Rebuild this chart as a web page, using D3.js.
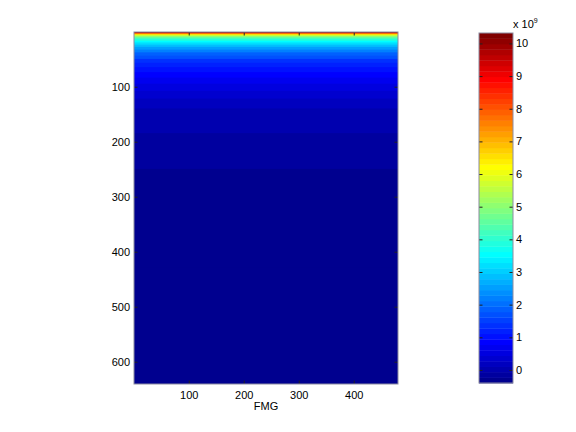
<!DOCTYPE html>
<html>
<head>
<meta charset="utf-8">
<script src="https://cdn.jsdelivr.net/npm/d3@7"></script>
<style>
  body { margin: 0; background: #fff; }
  svg { display: block; }
  text { font-family: Arial, "Liberation Sans", sans-serif; font-size: 11px; fill: #000; }
</style>
</head>
<body>
<div id="chart"></div>
<script>
// Image size (columns x rows) and the row profile
const nCols = 480;
const nRows = 640;
// first row of each band, and its value (x 10^9)
const rowStarts = [1, 2, 3, 4, 5, 6, 7, 8, 10, 12, 14, 17, 20, 24, 28, 33, 38, 44, 50, 57,
                   65, 74, 84, 95, 108, 122, 140, 160, 185, 215, 250, 300, 360, 430, 520, 600];
const rowValues = [10.3, 9.2, 8.0, 7.1, 6.5, 6.0, 5.5, 5.1, 4.6, 4.2, 3.85, 3.5, 3.15, 2.8, 2.5, 2.2, 1.9, 1.65, 1.4, 1.2,
                   1.0, 0.82, 0.66, 0.5, 0.36, 0.22, 0.08, -0.04, -0.14, -0.22, -0.27, -0.31, -0.34, -0.36, -0.38, -0.4];

const xTicks = [100, 200, 300, 400];
const yTicks = [100, 200, 300, 400, 500, 600];
const cTicks = [0, 1, 2, 3, 4, 5, 6, 7, 8, 9, 10];
const cLim = [-0.40, 10.32];
const xLabel = "FMG";

// MATLAB style jet colormap with m levels
function jet(m) {
  const n = Math.ceil(m / 4);
  const u = [];
  for (let k = 1; k <= n; k++) u.push(k / n);
  for (let k = 1; k < n; k++) u.push(1);
  for (let k = n; k >= 1; k--) u.push(k / n);
  const g0 = Math.ceil(n / 2) - (m % 4 === 1 ? 1 : 0);
  const pick = (i, off) => {
    const k = i - off;
    return (k >= 1 && k <= u.length) ? u[k - 1] : 0;
  };
  const out = [];
  for (let i = 1; i <= m; i++) {
    const r = pick(i, g0 + n), g = pick(i, g0), b = pick(i, g0 - n);
    out.push(d3.rgb(r * 255, g * 255, b * 255).formatHex());
  }
  return out;
}

const cmap = jet(64);
const color = d3.scaleQuantize().domain(cLim).range(cmap);

const width = 576, height = 432;
const svg = d3.select("#chart").append("svg")
  .attr("width", width)
  .attr("height", height);

svg.append("rect").attr("width", width).attr("height", height).attr("fill", "#fff");

// Main image axes
const x = d3.scaleLinear().domain([0.5, nCols + 0.5]).range([134, 398]);
const y = d3.scaleLinear().domain([0.5, nRows + 0.5]).range([32, 384]);

// each band runs to the bottom, the next one paints over it (no seams)
svg.append("g")
  .selectAll("rect")
  .data(rowStarts)
  .join("rect")
  .attr("x", x(0.5))
  .attr("width", x(nCols + 0.5) - x(0.5))
  .attr("y", d => y(d - 0.5))
  .attr("height", d => y(nRows + 0.5) - y(d - 0.5))
  .attr("fill", (d, i) => color(rowValues[i]));

const tickLen = 3.5;

svg.append("g")
  .attr("transform", `translate(0,${y(nRows + 0.5)})`)
  .call(d3.axisBottom(x).tickValues(xTicks).tickSizeInner(-tickLen).tickSizeOuter(0).tickPadding(7));
svg.append("g")
  .attr("transform", `translate(0,${y(0.5)})`)
  .call(d3.axisTop(x).tickValues(xTicks).tickSizeInner(-tickLen).tickSizeOuter(0).tickFormat(""));
svg.append("g")
  .attr("transform", `translate(${x(0.5)},0)`)
  .call(d3.axisLeft(y).tickValues(yTicks).tickSizeInner(-tickLen).tickSizeOuter(0).tickPadding(4));
svg.append("g")
  .attr("transform", `translate(${x(nCols + 0.5)},0)`)
  .call(d3.axisRight(y).tickValues(yTicks).tickSizeInner(-tickLen).tickSizeOuter(0).tickFormat(""));

svg.selectAll(".domain").remove();

svg.append("rect")
  .attr("x", x(0.5)).attr("y", y(0.5))
  .attr("width", x(nCols + 0.5) - x(0.5))
  .attr("height", y(nRows + 0.5) - y(0.5))
  .attr("fill", "none")
  .attr("stroke", "#8c8ca0")
  .attr("stroke-width", 1);

svg.append("text")
  .attr("x", (x(0.5) + x(nCols + 0.5)) / 2)
  .attr("y", 410)
  .attr("text-anchor", "middle")
  .text(xLabel);

// Colorbar
const cbLeft = 479, cbRight = 513;
const cy = d3.scaleLinear().domain(cLim).range([383, 33]);
const step = (cLim[1] - cLim[0]) / cmap.length;

svg.append("g")
  .selectAll("rect")
  .data(cmap)
  .join("rect")
  .attr("x", cbLeft)
  .attr("width", cbRight - cbLeft)
  .attr("y", (d, i) => cy(cLim[0] + (i + 1) * step))
  .attr("height", (d, i) => cy(cLim[0] + i * step) - cy(cLim[0] + (i + 1) * step) + 0.4)
  .attr("fill", d => d);

svg.append("g")
  .attr("transform", `translate(${cbRight},0)`)
  .call(d3.axisRight(cy).tickValues(cTicks).tickSizeInner(-tickLen).tickSizeOuter(0).tickPadding(3))
  .call(g => g.select(".domain").remove());
svg.append("g")
  .attr("transform", `translate(${cbLeft},0)`)
  .call(d3.axisLeft(cy).tickValues(cTicks).tickSizeInner(-tickLen).tickSizeOuter(0).tickFormat(""))
  .call(g => g.select(".domain").remove());

svg.selectAll(".tick line").attr("stroke", "#222");
svg.selectAll(".tick text").attr("font-size", 11).attr("font-family", null);

svg.append("rect")
  .attr("x", cbLeft).attr("y", cy(cLim[1]))
  .attr("width", cbRight - cbLeft)
  .attr("height", cy(cLim[0]) - cy(cLim[1]))
  .attr("fill", "none")
  .attr("stroke", "#8c8ca0")
  .attr("stroke-width", 1);

// exponent label
const expo = svg.append("text")
  .attr("x", 513)
  .attr("y", 28)
  .attr("font-size", 10);
expo.append("tspan").text("x 10");
expo.append("tspan").attr("dy", -5).attr("font-size", 7).text("9");
</script>
</body>
</html>
